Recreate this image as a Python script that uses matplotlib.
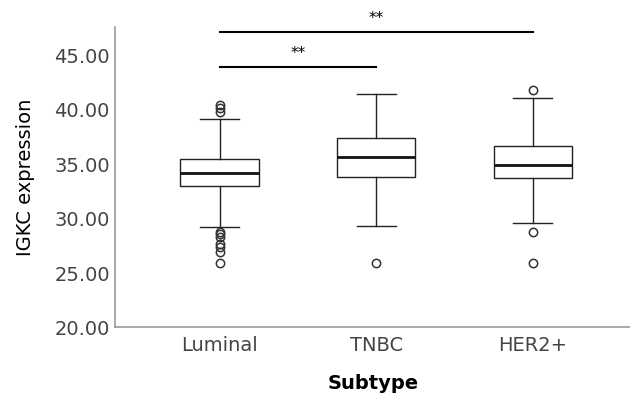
import matplotlib
matplotlib.use("Agg")
import matplotlib.pyplot as plt

categories = ["Luminal", "TNBC", "HER2+"]
q1 = [32.98, 33.84, 33.72]
median = [34.2, 35.65, 34.98]
q3 = [35.5, 37.4, 36.73]
whislo = [29.27, 29.36, 29.6]
whishi = [39.15, 41.48, 41.08]
outliers = [
    [40.45, 40.15, 39.85, 28.78, 28.56, 28.3, 27.7, 27.4, 26.93, 25.9],
    [25.96],
    [41.82, 28.78, 25.96],
]
yticks = [20, 25, 30, 35, 40, 45]
sig_pairs = [(0, 2), (0, 1)]
sig_levels = [47.14, 43.94]
sig_labels = ["**", "**"]

fig = plt.figure(figsize=(6.3, 3.99), dpi=100)
ax = fig.add_axes([0.1833, 0.1792, 0.8167, 0.7538])

stats = []
for i, c in enumerate(categories):
    stats.append(dict(label=c, q1=q1[i], med=median[i], q3=q3[i],
                      whislo=whislo[i], whishi=whishi[i], fliers=outliers[i]))

ax.bxp(stats, positions=range(len(categories)), widths=0.5, patch_artist=True,
       boxprops=dict(facecolor="white", edgecolor="#222222", linewidth=1.0),
       medianprops=dict(color="#111111", linewidth=2.0),
       whiskerprops=dict(color="#222222", linewidth=1.0),
       capprops=dict(color="#222222", linewidth=1.0),
       capwidths=0.25,
       flierprops=dict(marker="o", markerfacecolor="none", markeredgecolor="#333333",
                       markersize=6, markeredgewidth=1.1))

ax.set_xlim(-0.665, 2.62)
ax.set_ylim(20, 47.65)
ax.set_yticks(yticks)
ax.set_yticklabels([f"{v:.2f}" for v in yticks])
ax.tick_params(axis="both", length=0, labelsize=14, labelcolor="#444444", pad=6)
ax.tick_params(axis="y", pad=4)
for s in ["top", "right"]:
    ax.spines[s].set_visible(False)
for s in ["left", "bottom"]:
    ax.spines[s].set_color("#999999")
    ax.spines[s].set_linewidth(1.2)

ax.set_ylabel("IGKC expression", fontsize=14, color="black", labelpad=14)
ax.set_xlabel("Subtype", fontsize=14, color="black", fontweight="bold", labelpad=14)

for (a, b), lvl, lab in zip(sig_pairs, sig_levels, sig_labels):
    ax.plot([a, b], [lvl, lvl], color="black", linewidth=1.5, clip_on=False)
    ax.text((a + b) / 2, lvl + 0.6, lab, ha="center", va="bottom", fontsize=11,
            color="black", clip_on=False)

fig.savefig("out.png", dpi=100)
